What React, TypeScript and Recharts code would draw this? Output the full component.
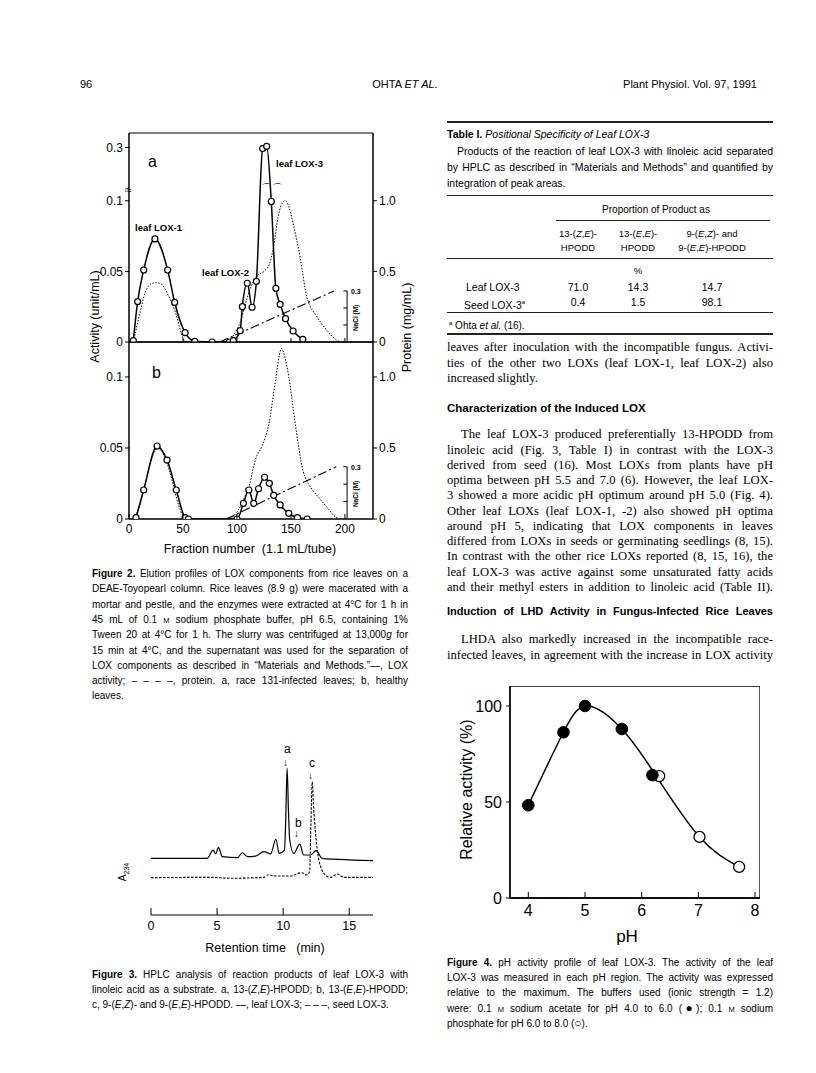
import React from "react";
import { ComposedChart, Line, XAxis, YAxis, ReferenceArea, ReferenceLine } from "recharts";

const SANS = '"Liberation Sans", Arial, sans-serif';
const SERIF = '"Liberation Serif", "Times New Roman", serif';

// Fig. 2a – race 131-infected leaves (fraction number, activity unit/mL)
const fracA = [4, 8, 13.6, 24, 35.8, 42.3, 52, 61, 77, 93, 96.6, 103, 105, 109.6, 114, 118, 123.8, 127.5, 131.8, 136, 140, 145, 152, 161];
const loxA = [0.001, 0.0286, 0.051, 0.073, 0.051, 0.028, 0.0066, 0.0005, 0, 0, 0.001, 0.008, 0.025, 0.0416, 0.0246, 0.043, 0.295, 0.305, 0.0995, 0.038, 0.0267, 0.0165, 0.0078, 0.0019];
const protFracA = [4, 10, 15, 20, 25, 30, 37, 43, 49, 52, 92, 97, 103, 109, 114, 119, 125, 130, 134, 138, 141, 144.6, 148, 152, 158.5, 164.7, 174, 183, 192, 196];
const protA = [0, 0.2, 0.35, 0.41, 0.42, 0.41, 0.32, 0.21, 0.05, 0, 0, 0.05, 0.14, 0.3, 0.41, 0.47, 0.5, 0.55, 0.68, 0.88, 0.97, 1.0, 0.96, 0.84, 0.6, 0.32, 0.18, 0.085, 0.015, 0];
const naclFracA = [84, 190];
const naclA = [0, 0.3];

// Fig. 2b – healthy leaves
const fracB = [6.5, 13.6, 26, 35.2, 43.8, 52, 55, 100, 106, 111, 115.5, 120, 125.6, 130, 134, 140, 148, 156, 165];
const loxB = [0.001, 0.0204, 0.0514, 0.0415, 0.0204, 0.001, 0, 0, 0.011, 0.0204, 0.011, 0.0213, 0.0294, 0.0251, 0.0167, 0.0099, 0.004, 0.001, 0];
const protFracB = [5, 10, 15, 20, 26, 30, 35, 40, 45, 50, 52, 92, 100, 107.5, 112, 114, 117, 123, 129.6, 135.8, 140.5, 141.4, 144, 148, 154, 161, 166, 170, 177, 183, 192, 195];
const protB = [0, 0.1, 0.25, 0.4, 0.5, 0.48, 0.4, 0.27, 0.12, 0.02, 0, 0, 0.05, 0.16, 0.25, 0.32, 0.415, 0.51, 0.67, 0.98, 1.19, 1.2, 1.15, 1.0, 0.67, 0.345, 0.25, 0.204, 0.14, 0.087, 0.01, 0];
const naclFracB = [90, 192];
const naclB = [0, 0.3];

const fracTicks = [0, 50, 100, 150, 200];
const actTickVals = [0, 0.05, 0.1, 0.3];
const actTickLabels = ["0", "0.05", "0.1", "0.3"];

// Fig. 3 – HPLC traces (min, detector signal)
const leafTime = [0, 4.25, 4.7, 4.9, 5.1, 5.4, 6.55, 6.9, 7.3, 7.9, 8.55, 9.05, 9.45, 9.7, 10.1, 10.2, 10.3, 10.4, 10.5, 10.8, 11.26, 11.55, 12.05, 12.5, 12.95, 14.2, 16.8];
const leafSignal = [37.8, 37.8, 43.3, 40.7, 45.1, 38.9, 38.2, 41.5, 38.9, 39.3, 42.2, 40.7, 50.5, 41.1, 43.3, 65, 98, 70, 50, 41.1, 47.3, 40, 40, 42.9, 37.8, 37.1, 36.2];
const seedTime = [0, 4.5, 6.05, 8.55, 8.8, 9.55, 10.55, 11.4, 11.8, 12.0, 12.1, 12.2, 12.3, 12.45, 12.7, 13.2, 13.6, 14.1, 14.6, 16.8];
const seedSignal = [24.9, 25.1, 24.5, 25.1, 26.7, 26, 26, 28.2, 26.7, 28.9, 60, 88.7, 72, 54.7, 36.7, 26.7, 25.1, 27.3, 25.1, 25.1];
const timeTicks = [0, 5, 10, 15];

// Fig. 4 – pH profile
const acetatePH = [4.0, 4.62, 5.0, 5.65, 6.19];
const acetateAct = [48.3, 86.3, 100, 88, 64];
const phosphatePH = [6.31, 7.02, 7.72];
const phosphateAct = [63.5, 31.8, 16.2];
const fitPH = [4.0, 4.62, 5.05, 5.65, 6.25, 7.02, 7.72];
const fitAct = [48.3, 86.3, 100, 88, 63.8, 31.8, 16.2];
const phTicks = [4, 5, 6, 7, 8];

// broken axis in panel a: values above 0.108 are compressed
const brk = (v: number) => (v <= 0.108 ? v : 0.108 + (v - 0.108) * 0.155);

const pts = (xs: number[], ys: number[], k: string, xk = "f", fn = (v: number) => v) =>
  xs.map((x, i) => ({ [xk]: x, [k]: fn(ys[i]) }));

const tickFont = { fill: "#000", fontSize: 12, fontFamily: SANS };

function UpTick(props: any) {
  const { x, y, payload, len, size, showLabel } = props;
  return (
    <g>
      <line x1={x} x2={x} y1={y} y2={y - len} stroke="#000" strokeWidth={1} />
      {showLabel && (
        <text x={x} y={y + size + 2} textAnchor="middle" fontSize={size} fontFamily={SANS} fill="#000">
          {payload.value}
        </text>
      )}
    </g>
  );
}

function T(props: { x: number; y: number; w?: number; s: number; f?: string; j?: boolean; align?: any; bold?: boolean; children: any }) {
  const { x, y, w, s, f, j, align, bold, children } = props;
  return (
    <div
      style={{
        position: "absolute",
        left: x,
        top: y - s * 0.6,
        width: w,
        fontSize: s,
        lineHeight: `${s * 1.2}px`,
        fontFamily: f || SANS,
        fontWeight: bold ? "bold" : "normal",
        whiteSpace: "nowrap",
        textAlign: j ? "justify" : align || "left",
        textAlignLast: j ? "justify" : align || "left",
        color: "#000",
      }}
    >
      {children}
    </div>
  );
}

function VT(props: { cx: number; cy: number; s: number; bold?: boolean; children: any }) {
  const { cx, cy, s, bold, children } = props;
  return (
    <div
      style={{
        position: "absolute",
        left: cx - 100,
        top: cy - s * 0.6,
        width: 200,
        textAlign: "center",
        fontSize: s,
        lineHeight: `${s * 1.2}px`,
        fontFamily: SANS,
        fontWeight: bold ? "bold" : "normal",
        transform: "rotate(-90deg)",
        whiteSpace: "nowrap",
      }}
    >
      {children}
    </div>
  );
}

const hr = (x: number, y: number, w: number, t = 1) => (
  <div style={{ position: "absolute", left: x, top: y, width: w, height: t, background: "#222" }} />
);

// pad keeps the "0" tick labels at the panel edges from being clipped
const PAD = 8;

function ElutionPanel(props: { top: number; height: number; xAxisH: number; domainTop: number; naclTop: number; lox: any[]; prot: any[]; nacl: any[]; broken?: boolean; labels?: boolean }) {
  const { top, height, xAxisH, domainTop, naclTop, lox, prot, nacl, broken, labels } = props;
  const ticks = broken ? actTickVals.map(brk) : [0, 0.05, 0.1];
  return (
    <div style={{ position: "absolute", left: 89, top: top - PAD }}>
      <ComposedChart width={324} height={height + 2 * PAD} margin={{ top: PAD, right: 0, bottom: PAD, left: 0 }}>
        <XAxis
          type="number"
          dataKey="f"
          domain={[0, 226]}
          ticks={labels ? fracTicks : fracTicks.slice(1)}
          interval={0}
          allowDataOverflow
          height={xAxisH}
          tickSize={0}
          tickMargin={0}
          axisLine={{ stroke: "#000" }}
          tick={(p: any) => <UpTick {...p} len={labels ? 5 : 4} size={12} showLabel={labels} />}
        />
        <YAxis
          yAxisId="act"
          domain={[0, domainTop]}
          ticks={ticks}
          interval={0}
          allowDataOverflow
          width={40}
          tickSize={4}
          tickMargin={2}
          axisLine={{ stroke: "#000" }}
          tickLine={{ stroke: "#000" }}
          tick={tickFont}
          tickFormatter={(v: number) => actTickLabels[ticks.findIndex((t) => Math.abs(t - v) < 1e-9)]}
        />
        <YAxis
          yAxisId="prot"
          orientation="right"
          domain={[0, domainTop * 10]}
          ticks={[0, 0.5, 1.0]}
          interval={0}
          allowDataOverflow
          width={40}
          tickSize={4}
          tickMargin={2}
          axisLine={{ stroke: "#000" }}
          tickLine={{ stroke: "#000" }}
          tick={tickFont}
          tickFormatter={(v: number) => (v === 0 ? "0" : v.toFixed(1))}
        />
        <YAxis yAxisId="nacl" hide domain={[0, naclTop]} allowDataOverflow />
        <ReferenceArea yAxisId="act" x1={0} x2={226} y1={0} y2={domainTop} fill="none" stroke="#000" strokeWidth={1} ifOverflow="visible" />
        <ReferenceLine yAxisId="nacl" segment={[{ x: 202, y: 0 }, { x: 202, y: 0.3 }]} stroke="#000" strokeWidth={1} />
        {[0.1, 0.2, 0.3].map((v) => (
          <ReferenceLine key={v} yAxisId="nacl" segment={[{ x: 198.5, y: v }, { x: 202, y: v }]} stroke="#000" strokeWidth={1} />
        ))}
        <Line yAxisId="prot" data={prot} dataKey="prot" type="monotone" stroke="#000" strokeWidth={1} strokeDasharray="1.5 1.5" dot={false} activeDot={false} isAnimationActive={false} />
        <Line yAxisId="nacl" data={nacl} dataKey="nacl" type="linear" stroke="#000" strokeWidth={1.1} strokeDasharray="9 3 2 3" dot={false} activeDot={false} isAnimationActive={false} />
        <Line
          yAxisId="act"
          data={lox}
          dataKey="act"
          type="monotone"
          stroke="#000"
          strokeWidth={1.5}
          dot={{ r: 3, fill: "#fff", stroke: "#000", strokeWidth: 1.2 }}
          activeDot={false}
          isAnimationActive={false}
        />
      </ComposedChart>
    </div>
  );
}

function HplcChart() {
  const leaf = pts(leafTime, leafSignal, "leaf", "t");
  const seed = pts(seedTime, seedSignal, "seed", "t");
  return (
    <div style={{ position: "absolute", left: 151 - PAD, top: 765 }}>
      <ComposedChart width={222 + PAD} height={185} margin={{ top: 0, right: 0, bottom: 0, left: PAD }}>
        <XAxis
          type="number"
          dataKey="t"
          domain={[0, 16.8]}
          ticks={timeTicks}
          interval={0}
          allowDataOverflow
          height={35}
          tickSize={0}
          tickMargin={0}
          axisLine={{ stroke: "#000", strokeWidth: 1.2 }}
          tick={(p: any) => <UpTick {...p} len={7} size={12.5} showLabel />}
        />
        <YAxis hide domain={[0, 100]} allowDataOverflow />
        <Line data={leaf} dataKey="leaf" type="monotone" stroke="#000" strokeWidth={1.2} dot={false} activeDot={false} isAnimationActive={false} />
        <Line data={seed} dataKey="seed" type="monotone" stroke="#000" strokeWidth={1.1} strokeDasharray="2.5 1.5" dot={false} activeDot={false} isAnimationActive={false} />
      </ComposedChart>
    </div>
  );
}

function PhChart() {
  const fit = pts(fitPH, fitAct, "v", "ph");
  const acetate = pts(acetatePH, acetateAct, "v", "ph");
  const phosphate = pts(phosphatePH, phosphateAct, "v", "ph");
  return (
    <div style={{ position: "absolute", left: 460, top: 686 }}>
      <ComposedChart width={300} height={257} margin={{ top: 0, right: 0, bottom: 0, left: 0 }}>
        <XAxis
          type="number"
          dataKey="ph"
          domain={[3.677, 8.088]}
          ticks={phTicks}
          interval={0}
          allowDataOverflow
          height={45}
          tickSize={0}
          tickMargin={0}
          axisLine={{ stroke: "#000", strokeWidth: 1.3 }}
          tick={(p: any) => <UpTick {...p} len={6} size={16} showLabel />}
        />
        <YAxis
          domain={[0, 110.4]}
          ticks={[0, 50, 100]}
          interval={0}
          allowDataOverflow
          width={50}
          tickSize={4}
          tickMargin={4}
          axisLine={{ stroke: "#000", strokeWidth: 1.3 }}
          tickLine={{ stroke: "#000" }}
          tick={{ fill: "#000", fontSize: 16, fontFamily: SANS }}
        />
        <ReferenceArea x1={3.677} x2={8.088} y1={0} y2={110.4} fill="none" stroke="#000" strokeWidth={1.3} ifOverflow="visible" />
        <Line data={fit} dataKey="v" type="natural" stroke="#000" strokeWidth={1.5} dot={false} activeDot={false} isAnimationActive={false} />
        <Line data={phosphate} dataKey="v" stroke="none" dot={{ r: 5.5, fill: "#fff", stroke: "#000", strokeWidth: 1.3 }} activeDot={false} isAnimationActive={false} />
        <Line data={acetate} dataKey="v" stroke="none" dot={{ r: 5.8, fill: "#000", stroke: "#000", strokeWidth: 1 }} activeDot={false} isAnimationActive={false} />
      </ComposedChart>
    </div>
  );
}

const SC = (t: string) => <span style={{ fontSize: "0.75em" }}>{t}</span>;
const SYM = (t: string) => <span style={{ fontSize: "1.2em", lineHeight: 0 }}>{t}</span>;

export default function App() {
  const cap = 10;
  const body = 12.6;
  const capLines2 = [
    <><b>Figure 2.</b> Elution profiles of LOX components from rice leaves on a</>,
    <>DEAE-Toyopearl column. Rice leaves (8.9 g) were macerated with a</>,
    <>mortar and pestle, and the enzymes were extracted at 4°C for 1 h in</>,
    <>45 mL of 0.1 {SC("M")} sodium phosphate buffer, pH 6.5, containing 1%</>,
    <>Tween 20 at 4°C for 1 h. The slurry was centrifuged at 13,000<i>g</i> for</>,
    <>15 min at 4°C, and the supernatant was used for the separation of</>,
    <>LOX components as described in “Materials and Methods.”—, LOX</>,
    <>activity; – – – –, protein. a, race 131-infected leaves; b, healthy</>,
  ];
  const bodyLines = [
    "linoleic acid (Fig. 3, Table I) in contrast with the LOX-3",
    "derived from seed (16). Most LOXs from plants have pH",
    "optima between pH 5.5 and 7.0 (6). However, the leaf LOX-",
    "3 showed a more acidic pH optimum around pH 5.0 (Fig. 4).",
    "Other leaf LOXs (leaf LOX-1, -2) also showed pH optima",
    "around pH 5, indicating that LOX components in leaves",
    "differed from LOXs in seeds or germinating seedlings (8, 15).",
    "In contrast with the other rice LOXs reported (8, 15, 16), the",
    "leaf LOX-3 was active against some unsaturated fatty acids",
    "and their methyl esters in addition to linoleic acid (Table II).",
  ];
  return (
    <div style={{ position: "absolute", left: 0, top: 0, width: 816, height: 1073, background: "#fff", overflow: "hidden", color: "#000" }}>
      {/* running head */}
      <T x={80} y={85} s={11}>96</T>
      <T x={330} y={85} w={150} s={11} align="center">OHTA <i>ET AL.</i></T>
      <T x={597} y={85} w={160} s={11} align="right">Plant Physiol. Vol. 97, 1991</T>

      {/* Figure 2 */}
      <ElutionPanel top={133} height={210} xAxisH={1} domainTop={0.148} naclTop={1.227} broken
        lox={pts(fracA, loxA, "act", "f", brk)} prot={pts(protFracA, protA, "prot")} nacl={pts(naclFracA, naclA, "nacl")} />
      <ElutionPanel top={342} height={209} xAxisH={32} domainTop={0.1246} naclTop={1.016} labels
        lox={pts(fracB, loxB, "act")} prot={pts(protFracB, protB, "prot")} nacl={pts(naclFracB, naclB, "nacl")} />
      <T x={148} y={162} s={16}>a</T>
      <T x={152} y={373} s={16}>b</T>
      <T x={276} y={164} s={9.5} bold>leaf LOX-3</T>
      <T x={135} y={228} s={9.5} bold>leaf LOX-1</T>
      <T x={202} y={273} s={9.5} bold>leaf LOX-2</T>
      <T x={125} y={190} s={12}>≈</T>
      <T x={261} y={189} s={11}>⌒⌒</T>
      <T x={351} y={292} s={7} bold>0.3</T>
      <T x={351} y={468} s={7} bold>0.3</T>
      <VT cx={356} cy={318} s={6.5} bold>NaCl (M)</VT>
      <VT cx={356} cy={494} s={6.5} bold>NaCl (M)</VT>
      <VT cx={95} cy={316} s={12.5}>Activity (unit/mL)</VT>
      <VT cx={407} cy={327} s={12.5}>Protein (mg/mL)</VT>
      <T x={150} y={549} w={200} s={12.5} align="center">Fraction number&nbsp;&nbsp;(1.1 mL/tube)</T>

      {capLines2.map((l, i) => (
        <T key={i} x={92} y={574 + i * 15.3} w={316} s={cap} j>{l}</T>
      ))}
      <T x={92} y={574 + 8 * 15.3} s={cap}>leaves.</T>

      {/* Figure 3 */}
      <HplcChart />
      <T x={284} y={749} s={12}>a</T>
      <T x={283} y={763} s={10}>↓</T>
      <T x={295} y={823} s={12}>b</T>
      <T x={294} y={834} s={10}>↓</T>
      <T x={309} y={763} s={12}>c</T>
      <T x={308} y={776} s={10}>↓</T>
      <VT cx={125} cy={870} s={10}>A<sub style={{ fontSize: 7 }}>234</sub></VT>
      <T x={160} y={948} w={210} s={12.5} align="center">Retention time&nbsp;&nbsp;&nbsp;(min)</T>
      <T x={92} y={975} w={316} s={cap} j><b>Figure 3.</b> HPLC analysis of reaction products of leaf LOX-3 with</T>
      <T x={92} y={990} w={316} s={cap} j>linoleic acid as a substrate. a, 13-(<i>Z</i>,<i>E</i>)-HPODD; b, 13-(<i>E</i>,<i>E</i>)-HPODD;</T>
      <T x={92} y={1005} s={cap}>c, 9-(<i>E</i>,<i>Z</i>)- and 9-(<i>E</i>,<i>E</i>)-HPODD. —, leaf LOX-3; – – –, seed LOX-3.</T>

      {/* Table I */}
      {hr(447, 121, 326, 2)}
      <T x={447} y={134} s={10.5}><b>Table I.</b> <i>Positional Specificity of Leaf LOX-3</i></T>
      <T x={457} y={151} w={316} s={10.5} j>Products of the reaction of leaf LOX-3 with linoleic acid separated</T>
      <T x={447} y={167} w={326} s={10.5} j>by HPLC as described in “Materials and Methods” and quantified by</T>
      <T x={447} y={183} s={10.5}>integration of peak areas.</T>
      {hr(447, 195, 326, 1)}
      <T x={566} y={210} w={180} s={10} align="center">Proportion of Product as</T>
      {hr(556, 220, 214, 1)}
      <T x={538} y={234} w={80} s={9.5} align="center">13-(<i>Z</i>,<i>E</i>)-</T>
      <T x={538} y={248} w={80} s={9.5} align="center">HPODD</T>
      <T x={598} y={234} w={80} s={9.5} align="center">13-(<i>E</i>,<i>E</i>)-</T>
      <T x={598} y={248} w={80} s={9.5} align="center">HPODD</T>
      <T x={662} y={234} w={100} s={9.5} align="center">9-(<i>E</i>,<i>Z</i>)- and</T>
      <T x={662} y={248} w={100} s={9.5} align="center">9-(<i>E</i>,<i>E</i>)-HPODD</T>
      {hr(447, 258, 326, 1)}
      <T x={598} y={271} w={80} s={9.5} align="center">%</T>
      <T x={466} y={287} s={10.5}>Leaf LOX-3</T>
      <T x={538} y={287} w={80} s={10.5} align="center">71.0</T>
      <T x={598} y={287} w={80} s={10.5} align="center">14.3</T>
      <T x={662} y={287} w={100} s={10.5} align="center">14.7</T>
      <T x={464} y={302} s={10.5}>Seed LOX-3<sup style={{ fontSize: 6 }}>a</sup></T>
      <T x={538} y={302} w={80} s={10.5} align="center">0.4</T>
      <T x={598} y={302} w={80} s={10.5} align="center">1.5</T>
      <T x={662} y={302} w={100} s={10.5} align="center">98.1</T>
      {hr(447, 312, 326, 1)}
      <T x={449} y={323} s={10}><sup style={{ fontSize: 6 }}>a</sup> Ohta <i>et al.</i> (16).</T>
      {hr(447, 333, 326, 2)}

      {/* right column text */}
      <T x={447} y={348} w={326} s={body} f={SERIF} j>leaves after inoculation with the incompatible fungus. Activi-</T>
      <T x={447} y={363.2} w={326} s={body} f={SERIF} j>ties of the other two LOXs (leaf LOX-1, leaf LOX-2) also</T>
      <T x={447} y={378.4} s={body} f={SERIF}>increased slightly.</T>
      <T x={447} y={409} s={11.5} bold>Characterization of the Induced LOX</T>
      <T x={461} y={435} w={312} s={body} f={SERIF} j>The leaf LOX-3 produced preferentially 13-HPODD from</T>
      {bodyLines.map((l, i) => (
        <T key={i} x={447} y={435 + (i + 1) * 15.25} w={326} s={body} f={SERIF} j>{l}</T>
      ))}
      <T x={447} y={612} w={326} s={11} bold j>Induction of LHD Activity in Fungus-Infected Rice Leaves</T>
      <T x={461} y={640} w={312} s={body} f={SERIF} j>LHDA also markedly increased in the incompatible race-</T>
      <T x={447} y={655.5} w={326} s={body} f={SERIF} j>infected leaves, in agreement with the increase in LOX activity</T>

      {/* Figure 4 */}
      <PhChart />
      <VT cx={467} cy={790} s={16}>Relative activity (%)</VT>
      <T x={587} y={937} w={80} s={17} align="center">pH</T>
      <T x={447} y={963} w={326} s={cap} j><b>Figure 4.</b> pH activity profile of leaf LOX-3. The activity of the leaf</T>
      <T x={447} y={978.2} w={326} s={cap} j>LOX-3 was measured in each pH region. The activity was expressed</T>
      <T x={447} y={993.4} w={326} s={cap} j>relative to the maximum. The buffers used (ionic strength = 1.2)</T>
      <T x={447} y={1008.6} w={326} s={cap} j>were: 0.1 {SC("M")} sodium acetate for pH 4.0 to 6.0 ({SYM("●")}); 0.1 {SC("M")} sodium</T>
      <T x={447} y={1023.8} s={cap}>phosphate for pH 6.0 to 8.0 ({SYM("○")}).</T>
    </div>
  );
}
